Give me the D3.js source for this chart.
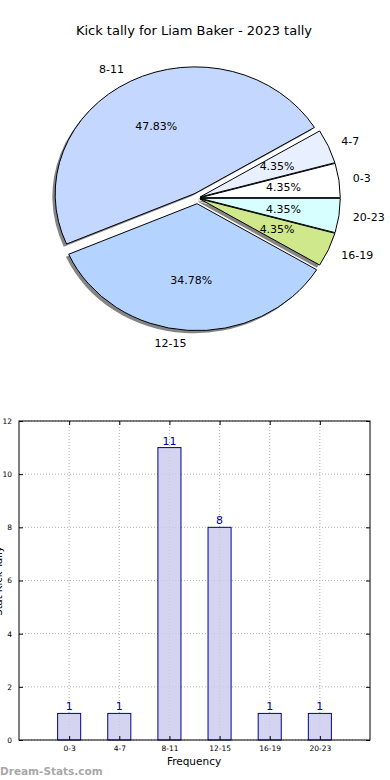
<!DOCTYPE html>
<html><head><meta charset="utf-8">
<script src="https://cdn.jsdelivr.net/npm/d3@7"></script>
<style>
body{margin:0;background:#fff;}
svg{display:block;font-family:"DejaVu Sans",sans-serif;}
</style></head>
<body>
<svg id="c" width="390" height="780"></svg>
<script>
// ---- data ----
const title = "Kick tally for Liam Baker - 2023 tally";
const categories = ["0-3","4-7","8-11","12-15","16-19","20-23"];
const counts = [1,1,11,8,1,1];
const pctLabels = ["4.35%","4.35%","47.83%","34.78%","4.35%","4.35%"];
const sliceColors = ["#ffffff","#e8f0ff","#c4d8ff","#b4d4ff","#d0e88c","#d8ffff"];
const explode = [0.02,0.02,0.04,0.045,0.02,0.02];
const yTicks = [0,2,4,6,8,10,12];
const xLabel = "Frequency";
const yLabel = "Stat Kick Tally";
const watermark = "Dream-Stats.com";

const svg = d3.select("#c");

// title
svg.append("text").attr("x",194).attr("y",35).attr("text-anchor","middle")
  .attr("font-size",13).attr("fill","#000").text(title);

// ---- pie (elliptical, matplotlib style) ----
const cx = 197.5, cy = 198, rx = 140, ry = 127;
const pie = d3.pie().sort(null).value(d=>d).startAngle(Math.PI/2).endAngle(Math.PI/2 - 2*Math.PI);
const arcs = pie(counts);
const arcGen = d3.arc().innerRadius(0).outerRadius(1);
const gPie = svg.append("g");
const info = arcs.map((a,i)=>{
  const mid = (a.startAngle + a.endAngle)/2;      // d3 angle
  const theta = Math.PI/2 - mid;                  // math angle
  const dx = explode[i]*rx*Math.cos(theta), dy = -explode[i]*ry*Math.sin(theta);
  return {a,i,theta,dx,dy};
});
// shadows first (below all wedges)
info.forEach(o=>{
  gPie.append("path").attr("d",arcGen(o.a))
    .attr("transform",`translate(${cx+o.dx-2.8},${cy+o.dy+2.6}) scale(${rx},${ry})`)
    .attr("fill","#333").attr("fill-opacity",0.6).attr("stroke","none");
});
info.forEach(o=>{
  gPie.append("path").attr("d",arcGen(o.a))
    .attr("transform",`translate(${cx+o.dx},${cy+o.dy}) scale(${rx},${ry})`)
    .attr("fill",sliceColors[o.i]).attr("stroke","#000").attr("stroke-width",1)
    .attr("vector-effect","non-scaling-stroke").attr("stroke-linejoin","round");
});
info.forEach(o=>{
  const c = Math.cos(o.theta), s = Math.sin(o.theta);
  const lx = cx + o.dx + 1.1*rx*c, ly = cy + o.dy - 1.1*ry*s;
  gPie.append("text").attr("x",lx).attr("y",ly).attr("dy","0.35em")
    .attr("text-anchor", c < 0 ? "end" : "start")
    .attr("font-size",11).text(categories[o.i]);
  const px = cx + o.dx + 0.6*rx*c, py = cy + o.dy - 0.6*ry*s;
  gPie.append("text").attr("x",px).attr("y",py).attr("dy","0.35em")
    .attr("text-anchor","middle").attr("font-size",11).text(pctLabels[o.i]);
});

// ---- bar chart ----
const L = 19, R = 370, T = 421, B = 740;
const x = d3.scaleLinear().domain([-1,6]).range([L,R]);
const y = d3.scaleLinear().domain([0,12]).range([B,T]);
const g = svg.append("g");
// grid
g.selectAll(".gy").data(yTicks).join("line")
  .attr("x1",L).attr("x2",R).attr("y1",d=>y(d)).attr("y2",d=>y(d))
  .attr("stroke","#b0b0b0").attr("stroke-dasharray","1,2");
g.selectAll(".gx").data(categories).join("line")
  .attr("x1",(d,i)=>x(i)).attr("x2",(d,i)=>x(i)).attr("y1",T).attr("y2",B)
  .attr("stroke","#b0b0b0").attr("stroke-dasharray","1,2");
// bars
const bw = 0.46;
g.selectAll(".bar").data(counts).join("rect")
  .attr("x",(d,i)=>x(i-bw/2)).attr("width",x(bw)-x(0))
  .attr("y",d=>y(d)).attr("height",d=>B-y(d))
  .attr("fill","#ccccee").attr("fill-opacity",0.85).attr("stroke","#000099").attr("stroke-width",1);
// bar value labels
g.selectAll(".bl").data(counts).join("text")
  .attr("x",(d,i)=>x(i)).attr("y",d=>y(d)-3)
  .attr("text-anchor","middle").attr("font-size",11).attr("fill","#000099").text(d=>d);
// frame
g.append("rect").attr("x",L).attr("y",T).attr("width",R-L).attr("height",B-T)
  .attr("fill","none").attr("stroke","#000").attr("stroke-width",1);
// axes (ticks inward)
const yAxis = d3.axisLeft(y).tickValues(yTicks).tickSize(-4).tickPadding(7);
g.append("g").attr("transform",`translate(${L},0)`).call(yAxis);
const yAxisR = d3.axisRight(y).tickValues(yTicks).tickSize(-4).tickFormat("");
g.append("g").attr("transform",`translate(${R},0)`).call(yAxisR);
const xAxis = d3.axisBottom(x).tickValues(d3.range(categories.length)).tickFormat(i=>categories[i]).tickSize(-4).tickPadding(6);
g.append("g").attr("transform",`translate(0,${B})`).call(xAxis);
const xAxisT = d3.axisTop(x).tickValues(d3.range(categories.length)).tickSize(-4).tickFormat("");
g.append("g").attr("transform",`translate(0,${T})`).call(xAxisT);
g.selectAll(".domain").remove();
g.selectAll(".tick line").attr("stroke","#000");
g.selectAll(".tick text").attr("font-size",7.5).attr("fill","#000").attr("font-family","DejaVu Sans");
// axis labels
svg.append("text").attr("x",194).attr("y",765).attr("text-anchor","middle")
  .attr("font-size",10.5).text(xLabel);
svg.append("text").attr("transform","translate(1.5,581) rotate(-90)")
  .attr("text-anchor","middle").attr("font-size",10).text(yLabel);
// watermark
svg.append("text").attr("x",0).attr("y",775).attr("font-size",10.5).attr("font-weight","bold")
  .attr("fill","#a8a8a8").text(watermark);
</script>
</body></html>
